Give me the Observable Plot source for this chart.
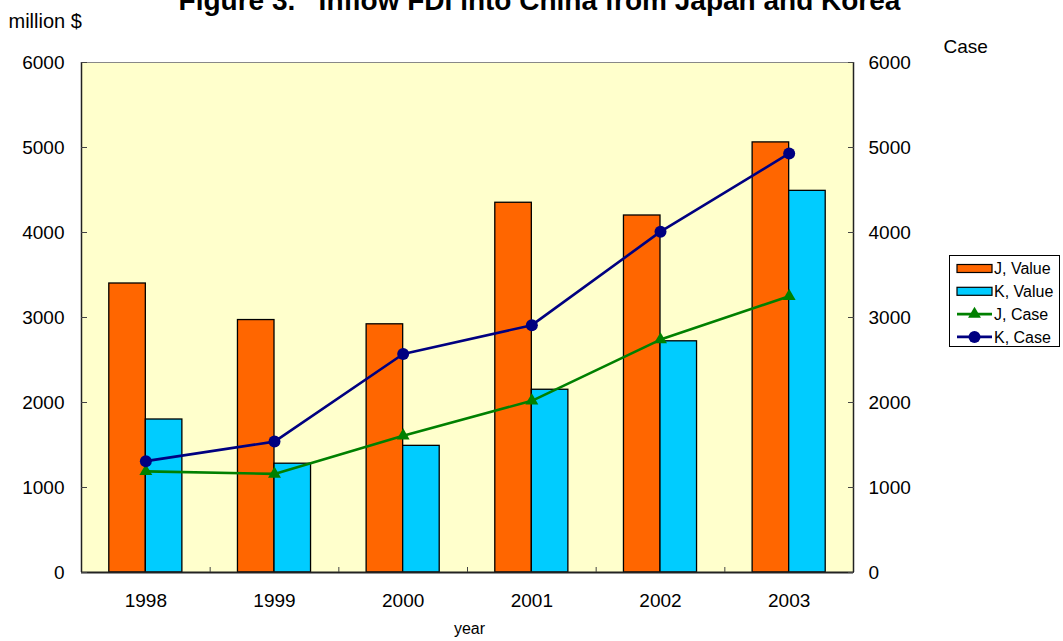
<!DOCTYPE html>
<html><head><meta charset="utf-8">
<script src="https://cdn.jsdelivr.net/npm/d3@7"></script>
<script src="https://cdn.jsdelivr.net/npm/@observablehq/plot@0.6"></script>
<style>
body{margin:0;background:#fff;font-family:"Liberation Sans",Arial,sans-serif}
#wrap{position:relative;width:1063px;height:641px;overflow:hidden}
svg text{white-space:pre}
#legend{position:absolute;left:949px;top:255px}
</style>
</head><body><div id="wrap"></div>
<script>
const years = [1998, 1999, 2000, 2001, 2002, 2003];
const jValue = [3400, 2970, 2920, 4350, 4200, 5060];
const kValue = [1800, 1280, 1490, 2150, 2720, 4490];
const jCase = [1190, 1160, 1610, 2020, 2740, 3250];
const kCase = [1310, 1540, 2570, 2910, 4010, 4930];
const yTicks = [0, 1000, 2000, 3000, 4000, 5000, 6000];
const seriesNames = ["J, Value", "K, Value", "J, Case", "K, Case"];
const seriesColors = ["#FF6600", "#00CCFF", "#008000", "#000080"];
const titleText = "Figure 3.   Inflow FDI into China from Japan and Korea";
const leftTitle = "million $";
const rightTitle = "Case";
const xTitle = "year";

const bw = 0.284;
const bars = [
  ...years.map((y, i) => ({year: y, value: jValue[i], s: 0})),
  ...years.map((y, i) => ({year: y, value: kValue[i], s: 1}))
];
const jRows = years.map((y, i) => ({year: y, value: jCase[i]}));
const kRows = years.map((y, i) => ({year: y, value: kCase[i]}));
const bounds = years.slice(0, -1).map(y => y + 0.5);
const xDomain = [years[0] - 0.5, years[years.length - 1] + 0.5];
const fmt = d => String(d);

const font = "Liberation Sans, Arial, sans-serif";
const chart = Plot.plot({
  width: 1063, height: 641,
  marginLeft: 81, marginRight: 210, marginTop: 62, marginBottom: 69,
  style: {fontFamily: font, fontSize: "19px", background: "#fff", color: "#000"},
  x: {domain: xDomain, axis: null},
  y: {domain: [0, 6000], axis: null},
  marks: [
    Plot.frame({fill: "#FFFFCC", stroke: null}),
    Plot.ruleY([6000], {stroke: "#888", strokeWidth: 1}),
    Plot.rectY(bars, {
      x1: d => d.year + (d.s === 0 ? -bw : 0),
      x2: d => d.year + (d.s === 0 ? 0 : bw),
      y: "value",
      fill: d => seriesColors[d.s],
      stroke: "#000", strokeWidth: 1.3
    }),
    Plot.line(jRows, {x: "year", y: "value", stroke: seriesColors[2], strokeWidth: 2.6}),
    Plot.dot(jRows, {x: "year", y: "value", symbol: "triangle", r: 4.8, fill: seriesColors[2], stroke: null}),
    Plot.line(kRows, {x: "year", y: "value", stroke: seriesColors[3], strokeWidth: 2.6}),
    Plot.dot(kRows, {x: "year", y: "value", symbol: "circle", r: 6, fill: seriesColors[3], stroke: null}),
    Plot.ruleX([xDomain[0], xDomain[1]], {stroke: "#222", strokeWidth: 1.5}),
    Plot.ruleY([0], {stroke: "#222", strokeWidth: 1.8}),
    Plot.axisY(yTicks, {anchor: "left", tickSize: 0, tickPadding: 17, fontSize: 19, tickFormat: fmt, label: null}),
    Plot.axisY(yTicks, {anchor: "left", tickSize: 6, text: null, dx: 6, stroke: "#444", label: null}),
    Plot.axisY(yTicks, {anchor: "right", tickSize: 0, tickPadding: 15, fontSize: 19, tickFormat: fmt, label: null}),
    Plot.axisY(yTicks, {anchor: "right", tickSize: 6, text: null, dx: -6, stroke: "#444", label: null}),
    Plot.axisX(years, {anchor: "bottom", tickSize: 0, tickPadding: 21, tickFormat: fmt, fontSize: 19, label: null}),
    Plot.axisX(bounds, {anchor: "bottom", tickSize: 5, text: null, dy: -5, stroke: "#444", label: null}),
    Plot.text([titleText], {frameAnchor: "top", dx: 72, dy: -53, lineAnchor: "bottom", fontSize: 28, fontWeight: "bold"}),
    Plot.text([leftTitle], {frameAnchor: "top-left", dx: -73, dy: -35, textAnchor: "start", lineAnchor: "bottom", fontSize: 20}),
    Plot.text([rightTitle], {frameAnchor: "top-right", dx: 90, dy: -10, textAnchor: "start", lineAnchor: "bottom", fontSize: 19}),
    Plot.text([xTitle], {frameAnchor: "bottom", dx: 2, dy: 61, lineAnchor: "bottom", fontSize: 16})
  ]
});
const wrap = document.getElementById("wrap");
wrap.appendChild(chart);

// legend
const lg = d3.select(wrap).append("svg").attr("id", "legend")
  .attr("width", 112).attr("height", 93).style("font-family", font);
lg.append("rect").attr("x", 0.5).attr("y", 0.5).attr("width", 110).attr("height", 91)
  .attr("fill", "#fff").attr("stroke", "#000");
seriesNames.forEach((name, i) => {
  const cy = 13.5 + i * 22.8;
  const g = lg.append("g");
  if (i < 2) {
    g.append("rect").attr("x", 8).attr("y", cy - 4).attr("width", 35).attr("height", 8)
      .attr("fill", seriesColors[i]).attr("stroke", "#000").attr("stroke-width", 1.2);
  } else {
    g.append("line").attr("x1", 8).attr("x2", 43).attr("y1", cy).attr("y2", cy)
      .attr("stroke", seriesColors[i]).attr("stroke-width", 2.6);
    if (i === 2) {
      g.append("path").attr("transform", `translate(25.5,${cy})`)
        .attr("d", d3.symbol(d3.symbolTriangle, Math.PI * 4.8 * 4.8)()).attr("fill", seriesColors[i]);
    } else {
      g.append("circle").attr("cx", 25.5).attr("cy", cy).attr("r", 6).attr("fill", seriesColors[i]);
    }
  }
  g.append("text").attr("x", 45).attr("y", cy).attr("dy", "0.35em").attr("font-size", 16).text(name);
});
</script>
</body></html>
